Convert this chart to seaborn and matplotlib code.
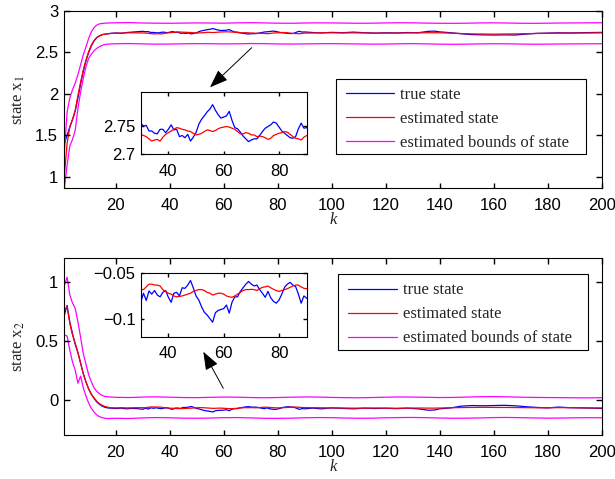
import matplotlib
matplotlib.use("Agg")
import matplotlib.pyplot as plt
from matplotlib.patches import FancyArrowPatch, Rectangle
from matplotlib.ticker import FuncFormatter
from matplotlib.transforms import blended_transform_factory
import seaborn as sns

# ---------------- data ----------------
k_state = (list(range(1, 19)) + [20, 22, 24, 26, 28] + list(range(30, 91)) +
           [93, 96, 100, 104, 108, 112, 116, 120, 124, 128, 132, 136, 138, 140,
            144, 148, 152, 156, 160, 164, 168, 172, 176, 180, 184, 188, 192, 196, 200])
k_bound = list(range(1, 18)) + list(range(20, 201, 5))

true_x1 = ([1.40, 1.50, 1.60, 1.69, 1.79, 1.95, 2.12, 2.27, 2.40, 2.50, 2.58, 2.64, 2.68, 2.70, 2.715, 2.72, 2.725, 2.73]
           + [2.735, 2.730, 2.740, 2.745, 2.750]
           + [2.755, 2.750, 2.751, 2.741, 2.741, 2.737, 2.736, 2.744, 2.744, 2.738,
              2.744, 2.752, 2.743, 2.744, 2.731, 2.733, 2.729, 2.735, 2.723, 2.730,
              2.738, 2.753, 2.762, 2.768, 2.775, 2.780, 2.788, 2.778, 2.770, 2.764,
              2.766, 2.768, 2.776, 2.760, 2.747, 2.745, 2.739, 2.732, 2.727, 2.722,
              2.725, 2.727, 2.727, 2.733, 2.740, 2.746, 2.749, 2.752, 2.757, 2.755,
              2.748, 2.741, 2.737, 2.733, 2.729, 2.728, 2.731, 2.745, 2.755, 2.746, 2.747]
           + [2.740, 2.735, 2.742, 2.738, 2.745, 2.738, 2.733, 2.737, 2.735, 2.740, 2.738, 2.755, 2.757, 2.748,
              2.738, 2.725, 2.715, 2.712, 2.710, 2.712, 2.710, 2.722, 2.730, 2.733, 2.737, 2.735, 2.738, 2.740, 2.742])
est_x1 = ([1.02, 1.40, 1.60, 1.69, 1.80, 1.98, 2.14, 2.29, 2.41, 2.51, 2.59, 2.645, 2.68, 2.70, 2.715, 2.72, 2.725, 2.728]
          + [2.732, 2.734, 2.736, 2.737, 2.736]
          + [2.735, 2.733, 2.731, 2.727, 2.723, 2.725, 2.726, 2.723, 2.730, 2.735,
             2.738, 2.741, 2.744, 2.747, 2.746, 2.744, 2.743, 2.741, 2.740, 2.737,
             2.734, 2.735, 2.737, 2.740, 2.743, 2.742, 2.740, 2.742, 2.745, 2.747,
             2.748, 2.749, 2.748, 2.746, 2.744, 2.740, 2.736, 2.736, 2.738, 2.737,
             2.734, 2.734, 2.731, 2.732, 2.731, 2.729, 2.726, 2.728, 2.733, 2.735,
             2.737, 2.738, 2.740, 2.739, 2.735, 2.731, 2.728, 2.727, 2.725, 2.730, 2.733]
          + [2.735, 2.737, 2.737, 2.735, 2.736, 2.735, 2.733, 2.733, 2.734, 2.735, 2.736, 2.738, 2.738, 2.737,
             2.733, 2.728, 2.724, 2.722, 2.721, 2.722, 2.724, 2.726, 2.729, 2.731, 2.733, 2.733, 2.734, 2.735, 2.736])
upper_x1 = ([1.30, 1.78, 1.95, 2.05, 2.13, 2.23, 2.35, 2.47, 2.57, 2.67, 2.75, 2.80, 2.83, 2.845, 2.85, 2.853, 2.855]
            + [2.858, 2.860, 2.855, 2.853, 2.852, 2.854, 2.856, 2.855, 2.853, 2.857, 2.859, 2.856, 2.853,
               2.852, 2.855, 2.857, 2.856, 2.854, 2.852, 2.853, 2.856, 2.858, 2.857, 2.854, 2.852, 2.851,
               2.853, 2.856, 2.857, 2.855, 2.852, 2.851, 2.853, 2.855, 2.856, 2.857, 2.858])
lower_x1 = ([0.86, 1.14, 1.37, 1.45, 1.56, 1.82, 2.02, 2.19, 2.33, 2.43, 2.48, 2.52, 2.55, 2.57, 2.585, 2.595, 2.60]
            + [2.605, 2.607, 2.603, 2.600, 2.601, 2.604, 2.606, 2.605, 2.603, 2.604, 2.607, 2.606, 2.602,
               2.601, 2.603, 2.605, 2.606, 2.604, 2.602, 2.600, 2.601, 2.604, 2.606, 2.603, 2.600, 2.598,
               2.600, 2.603, 2.605, 2.604, 2.601, 2.599, 2.600, 2.602, 2.603, 2.604, 2.605])

true_x2 = ([0.72, 0.80, 0.66, 0.56, 0.47, 0.40, 0.31, 0.22, 0.15, 0.09, 0.045, 0.01, -0.02, -0.04, -0.055, -0.065, -0.07, -0.072]
           + [-0.075, -0.072, -0.078, -0.074, -0.076]
           + [-0.082, -0.072, -0.080, -0.0695, -0.073, -0.069, -0.074, -0.076, -0.071, -0.069,
              -0.0765, -0.082, -0.072, -0.071, -0.075, -0.066, -0.0666, -0.063, -0.058, -0.066,
              -0.075, -0.0795, -0.087, -0.093, -0.096, -0.100, -0.104, -0.0935, -0.091, -0.090,
              -0.089, -0.085, -0.094, -0.082, -0.076, -0.076, -0.070, -0.066, -0.062, -0.059,
              -0.062, -0.064, -0.063, -0.068, -0.072, -0.0765, -0.070, -0.077, -0.081, -0.083,
              -0.0795, -0.073, -0.0655, -0.062, -0.060, -0.063, -0.0647, -0.073, -0.083, -0.075, -0.0776]
           + [-0.072, -0.078, -0.070, -0.074, -0.078, -0.072, -0.075, -0.073, -0.076, -0.072, -0.078, -0.090, -0.088,
              -0.078, -0.070, -0.055, -0.050, -0.052, -0.050, -0.048, -0.052, -0.060, -0.066, -0.070, -0.063,
              -0.068, -0.070, -0.072, -0.075])
est_x2 = ([0.76, 0.79, 0.65, 0.55, 0.48, 0.40, 0.31, 0.22, 0.15, 0.09, 0.045, 0.015, -0.015, -0.035, -0.048, -0.058, -0.064, -0.068]
          + [-0.070, -0.068, -0.070, -0.069, -0.068]
          + [-0.068, -0.068, -0.065, -0.062, -0.062, -0.063, -0.063, -0.064, -0.068, -0.070,
             -0.072, -0.073, -0.075, -0.076, -0.0755, -0.075, -0.074, -0.073, -0.072, -0.070,
             -0.069, -0.068, -0.068, -0.069, -0.071, -0.072, -0.074, -0.073, -0.072, -0.072,
             -0.073, -0.075, -0.076, -0.0765, -0.075, -0.073, -0.071, -0.069, -0.068, -0.068,
             -0.0677, -0.068, -0.069, -0.067, -0.0655, -0.065, -0.064, -0.066, -0.0677, -0.069,
             -0.070, -0.069, -0.068, -0.067, -0.0655, -0.064, -0.063, -0.063, -0.065, -0.0666, -0.067]
          + [-0.068, -0.069, -0.070, -0.071, -0.072, -0.072, -0.071, -0.072, -0.073, -0.072, -0.071, -0.072, -0.072,
             -0.071, -0.069, -0.067, -0.066, -0.065, -0.066, -0.066, -0.067, -0.068, -0.069, -0.069, -0.068,
             -0.068, -0.069, -0.070, -0.070])
upper_x2 = ([0.97, 1.04, 0.89, 0.82, 0.775, 0.66, 0.53, 0.39, 0.30, 0.21, 0.15, 0.10, 0.07, 0.05, 0.035, 0.028, 0.024]
            + [0.020, 0.018, 0.022, 0.024, 0.021, 0.018, 0.017, 0.020, 0.022, 0.021, 0.018, 0.016, 0.018,
               0.021, 0.023, 0.022, 0.019, 0.017, 0.016, 0.018, 0.021, 0.023, 0.022, 0.020, 0.018, 0.019,
               0.022, 0.025, 0.026, 0.024, 0.021, 0.019, 0.018, 0.017, 0.016, 0.015, 0.017])
lower_x2 = ([0.55, 0.54, 0.42, 0.32, 0.25, 0.14, 0.20, 0.10, 0.03, -0.03, -0.075, -0.105, -0.13, -0.145, -0.152, -0.158, -0.16]
            + [-0.158, -0.160, -0.155, -0.152, -0.154, -0.157, -0.158, -0.156, -0.153, -0.152, -0.155, -0.158,
               -0.159, -0.157, -0.154, -0.152, -0.153, -0.156, -0.158, -0.157, -0.154, -0.152, -0.151, -0.153,
               -0.156, -0.158, -0.157, -0.155, -0.152, -0.151, -0.153, -0.155, -0.157, -0.156, -0.154, -0.153, -0.154])

labels = ["true state", "estimated state", "estimated bounds of state"]
x_ticks = [20, 40, 60, 80, 100, 120, 140, 160, 180, 200]
y_ticks_x1 = [1, 1.5, 2, 2.5, 3]
y_ticks_x2 = [0, 0.5, 1]
inset_x_ticks = [40, 60, 80]
inset_y_ticks_x1 = [2.7, 2.75]
inset_y_ticks_x2 = [-0.1, -0.05]

# ---------------- style ----------------
sns.set_theme(style="ticks")
plt.rcParams.update({
    "font.family": ["Liberation Sans", "DejaVu Sans"],
    "mathtext.fontset": "stix",
    "axes.edgecolor": "black",
    "axes.linewidth": 0.8,
    "axes.facecolor": "white",
    "figure.facecolor": "white",
    "xtick.direction": "in", "ytick.direction": "in",
    "xtick.color": "black", "ytick.color": "black",
    "xtick.labelsize": 12, "ytick.labelsize": 12,
})

W, H = 615, 479
fig = plt.figure(figsize=(W / 100, H / 100), dpi=100)

def fx(px):
    return px / W

def fy(py):
    return 1 - py / H

ax1 = fig.add_axes([fx(64.4), fy(188.3), fx(601.7) - fx(64.4), fy(11.0) - fy(188.3)])
ax2 = fig.add_axes([fx(64.4), fy(435.0), fx(601.7) - fx(64.4), fy(258.3) - fy(435.0)])
in1 = fig.add_axes([fx(140.7), fy(154.0), fx(306.7) - fx(140.7), fy(92.3) - fy(154.0)])
in2 = fig.add_axes([fx(140.7), fy(336.7), fx(306.7) - fx(140.7), fy(273.3) - fy(336.7)])

fmt = FuncFormatter(lambda v, p: f"{v:g}".replace("-", "\u2212"))
LW = 0.9

def style_axes(ax, xticks, yticks, tick_px, xpad, ypad):
    ax.set_xticks(xticks)
    ax.set_yticks(yticks)
    ax.xaxis.set_major_formatter(fmt)
    ax.yaxis.set_major_formatter(fmt)
    ax.tick_params(axis="both", which="both", direction="in", length=0,
                   labelcolor="black", labelsize=12)
    ax.tick_params(axis="x", pad=xpad)
    ax.tick_params(axis="y", pad=ypad)
    for s in ax.spines.values():
        s.set_visible(True)
        s.set_color("black")
        s.set_linewidth(0.8)
    # inward tick marks on all four sides (drawn as short line segments)
    bb = ax.get_position()
    hfrac = tick_px / (bb.height * H)
    wfrac = tick_px / (bb.width * W)
    tx = blended_transform_factory(ax.transData, ax.transAxes)
    ty = blended_transform_factory(ax.transAxes, ax.transData)
    for v in xticks:
        for seg in ([0, hfrac], [1 - hfrac, 1]):
            ax.plot([v, v], seg, transform=tx, color="black", lw=1.0, clip_on=False,
                    solid_capstyle="butt", zorder=4)
    for v in yticks:
        for seg in ([0, wfrac], [1 - wfrac, 1]):
            ax.plot(seg, [v, v], transform=ty, color="black", lw=1.0, clip_on=False,
                    solid_capstyle="butt", zorder=4)

def draw(ax, true_v, est_v, up_v, lo_v):
    sns.lineplot(x=k_state, y=true_v, ax=ax, color="#0000ff", lw=LW, estimator=None, sort=False,
                 label=labels[0])
    sns.lineplot(x=k_state, y=est_v, ax=ax, color="#ff0000", lw=LW, estimator=None, sort=False,
                 label=labels[1])
    sns.lineplot(x=k_bound, y=up_v, ax=ax, color="#ff00ff", lw=LW, estimator=None, sort=False,
                 label=labels[2])
    sns.lineplot(x=k_bound, y=lo_v, ax=ax, color="#ff00ff", lw=LW, estimator=None, sort=False)

for ax, tv, ev, uv, lv in [(ax1, true_x1, est_x1, upper_x1, lower_x1),
                           (ax2, true_x2, est_x2, upper_x2, lower_x2)]:
    draw(ax, tv, ev, uv, lv)
    ax.set_xlim(1, 200)
    ax.set_xlabel("k", fontfamily="Liberation Serif", fontstyle="italic", fontsize=12, labelpad=-0.5)

ax1.set_ylim(0.86, 3)
ax2.set_ylim(-0.3, 1.2)
ax1.set_ylabel("state x$_1$", fontfamily="Liberation Serif", fontsize=12, labelpad=6)
ax2.set_ylabel("state x$_2$", fontfamily="Liberation Serif", fontsize=12, labelpad=6)

# legends (before tick segments so they collect only the data lines)
for ax, box, anchor in [(ax1, (335.7, 79.0, 585.7, 154.3), (346.0, 87.0)),
                        (ax2, (337.7, 274.3, 588.3, 350.0), (348.3, 282.5))]:
    h, l = ax.get_legend_handles_labels()
    leg = ax.legend(h, l, loc="upper left", bbox_to_anchor=(fx(anchor[0]), fy(anchor[1])),
                    bbox_transform=fig.transFigure, frameon=False, borderpad=0, borderaxespad=0,
                    handlelength=2.9, handletextpad=0.36, labelspacing=0.48,
                    prop={"family": "Liberation Serif", "size": 12})
    leg.set_zorder(10)
    x0, y0, x1, y1 = box
    rect = Rectangle((fx(x0), fy(y1)), fx(x1) - fx(x0), fy(y0) - fy(y1), transform=fig.transFigure,
                     facecolor="white", edgecolor="black", lw=0.8, zorder=9, clip_on=False)
    ax.add_artist(rect)

style_axes(ax1, x_ticks, y_ticks_x1, 5.5, 7, 4.5)
style_axes(ax2, x_ticks, y_ticks_x2, 5.5, 7, 4.5)

for ax, tv, ev, yl, yt in [(in1, true_x1, est_x1, (2.7, 2.81), inset_y_ticks_x1),
                           (in2, true_x2, est_x2, (-0.12, -0.05), inset_y_ticks_x2)]:
    sns.lineplot(x=k_state, y=tv, ax=ax, color="#0000ff", lw=LW, estimator=None, sort=False)
    sns.lineplot(x=k_state, y=ev, ax=ax, color="#ff0000", lw=LW, estimator=None, sort=False)
    ax.set_xlim(30, 90)
    ax.set_ylim(*yl)
    ax.set_xlabel("")
    ax.set_ylabel("")
    style_axes(ax, inset_x_ticks, yt, 3.5, 7, 3.6)

# arrows pointing to the insets
for tail, head in [((251.7, 47.7), (210.0, 87.3)), ((223.3, 388.3), (203.3, 351.7))]:
    arr = FancyArrowPatch((fx(tail[0]), fy(tail[1])), (fx(head[0]), fy(head[1])),
                          transform=fig.transFigure, arrowstyle="-|>,head_length=0.8,head_width=0.3",
                          mutation_scale=14, color="black", lw=0.7, shrinkA=0, shrinkB=0)
    fig.add_artist(arr)

fig.savefig("out.png", dpi=100)
